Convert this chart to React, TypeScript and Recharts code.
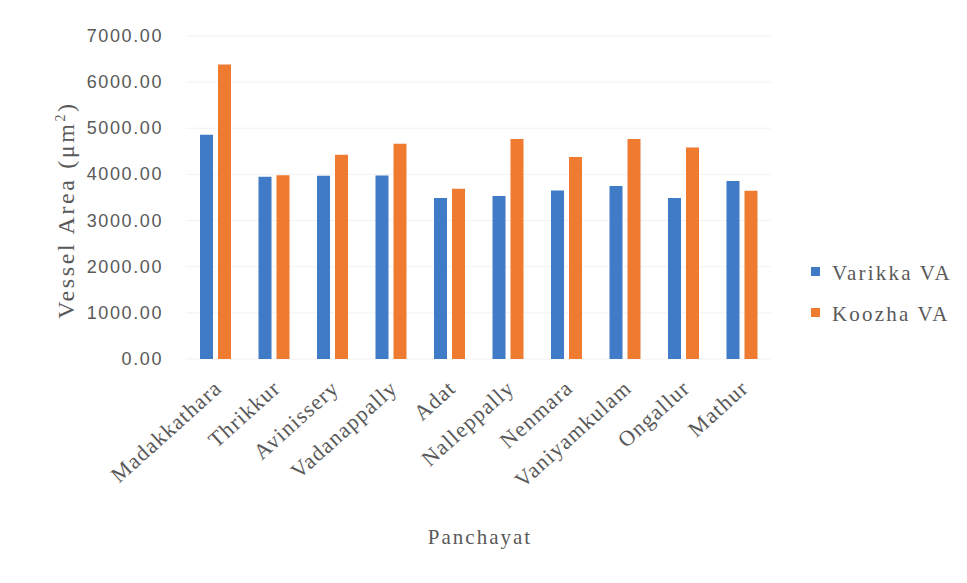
import React from "react";
import { BarChart, Bar, XAxis, YAxis, CartesianGrid } from "recharts";

// Panchayat names along the category axis
const panchayats = [
  "Madakkathara",
  "Thrikkur",
  "Avinissery",
  "Vadanappally",
  "Adat",
  "Nalleppally",
  "Nenmara",
  "Vaniyamkulam",
  "Ongallur",
  "Mathur",
];

// Mean vessel area (µm²) per panchayat for each variety
const varikkaVA = [4860, 3950, 3970, 3975, 3490, 3535, 3650, 3750, 3490, 3860];
const koozhaVA = [6380, 3980, 4425, 4665, 3690, 4770, 4380, 4770, 4585, 3645];

const yTicks = [0, 1000, 2000, 3000, 4000, 5000, 6000, 7000];

const seriesInfo = [
  { key: "varikka", name: "Varikka VA", color: "#3f7bc6" },
  { key: "koozha", name: "Koozha VA", color: "#ee7b30" },
];

const data = panchayats.map((p, i) => ({
  panchayat: p,
  varikka: varikkaVA[i],
  koozha: koozhaVA[i],
}));

const SERIF = "Liberation Serif, Times New Roman, serif";
const SANS = "Liberation Sans, Arial, sans-serif";
const TEXT = "#595959";

const CategoryTick = (props: any) => {
  const { x, payload } = props;
  const ax = x + 8;
  const ay = 359 + 31;
  return (
    <text
      x={ax}
      y={ay}
      transform={`rotate(-42 ${ax} ${ay})`}
      textAnchor="end"
      fontFamily={SERIF}
      fontSize={22}
      letterSpacing={1.2}
      fill={TEXT}
    >
      {payload.value}
    </text>
  );
};

const ValueTick = (props: any) => {
  const { x, y, payload } = props;
  return (
    <text
      x={x}
      y={y}
      dy={6}
      textAnchor="end"
      fontFamily={SANS}
      fontSize={18}
      letterSpacing={1.6}
      fill={TEXT}
    >
      {Number(payload.value).toFixed(2)}
    </text>
  );
};

const ValueAxisTitle = () => {
  const cx = 74;
  const cy = 210;
  return (
    <text
      x={cx}
      y={cy}
      transform={`rotate(-90 ${cx} ${cy})`}
      textAnchor="middle"
      fontFamily={SERIF}
      fontSize={24}
      letterSpacing={2.6}
      fill={TEXT}
    >
      Vessel Area (μm
      <tspan dy={-9} fontSize={14}>
        2
      </tspan>
      <tspan dy={9}>)</tspan>
    </text>
  );
};

const CategoryAxisTitle = () => (
  <text
    x={480}
    y={544}
    textAnchor="middle"
    fontFamily={SERIF}
    fontSize={21}
    letterSpacing={2}
    fill={TEXT}
  >
    Panchayat
  </text>
);

const SeriesKey = () => (
  <svg
    width={160}
    height={80}
    style={{ position: "absolute", left: 805, top: 250 }}
  >
    {seriesInfo.map((s, i) => (
      <g key={s.key} transform={`translate(0 ${i * 41})`}>
        <rect x={6} y={17} width={9} height={9} fill={s.color} />
        <text
          x={27}
          y={30}
          fontFamily={SERIF}
          fontSize={21}
          letterSpacing={2.2}
          fill={TEXT}
        >
          {s.name}
        </text>
      </g>
    ))}
  </svg>
);

export default function App() {
  return (
    <div style={{ position: "absolute", left: 0, top: 0, width: 967, height: 583, background: "#fff" }}>
      <BarChart
        width={967}
        height={583}
        data={data}
        margin={{ top: 36, right: 196, bottom: 0, left: 0 }}
        barSize={13}
        barGap={5}
      >
        <CartesianGrid vertical={false} stroke="#f2f2f2" />
        <XAxis
          dataKey="panchayat"
          height={224}
          axisLine={false}
          tickLine={false}
          tickSize={0}
          interval={0}
          tick={<CategoryTick />}
        />
        <YAxis
          width={186}
          domain={[0, 7000]}
          ticks={yTicks}
          axisLine={false}
          tickLine={false}
          tickSize={0}
          tickMargin={23}
          tick={<ValueTick />}
        />
        {seriesInfo.map((s) => (
          <Bar
            key={s.key}
            dataKey={s.key}
            name={s.name}
            fill={s.color}
            isAnimationActive={false}
          />
        ))}
        <ValueAxisTitle />
        <CategoryAxisTitle />
      </BarChart>
      <SeriesKey />
    </div>
  );
}
